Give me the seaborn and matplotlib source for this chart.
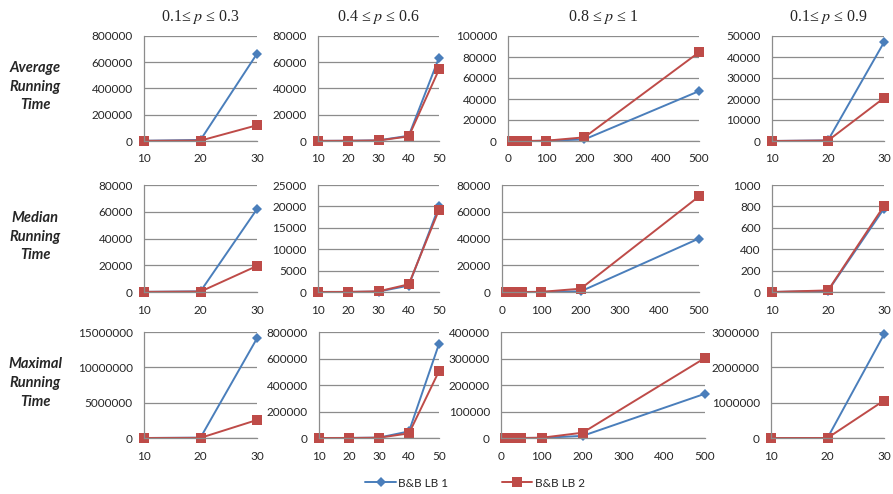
import numpy as np
import pandas as pd
import matplotlib
matplotlib.use("Agg")
import matplotlib.pyplot as plt
import seaborn as sns

# ---------------- data ----------------
x_small = [10, 20, 30]
x_mid = [10, 20, 30, 40, 50]
x_large = [10, 20, 30, 40, 50, 100, 200, 500]

# Average running time
avg_p1_lb1 = [2000, 8000, 665000]
avg_p1_lb2 = [1000, 3000, 120000]
avg_p2_lb1 = [100, 200, 500, 4000, 63500]
avg_p2_lb2 = [100, 150, 400, 3500, 54500]
avg_p3_lb1 = [0, 0, 0, 0, 10, 200, 1500, 47500]
avg_p3_lb2 = [0, 0, 0, 0, 10, 300, 3500, 84500]
avg_p4_lb1 = [10, 300, 47000]
avg_p4_lb2 = [10, 200, 20500]

# Median running time
med_p1_lb1 = [100, 500, 62000]
med_p1_lb2 = [100, 300, 19500]
med_p2_lb1 = [10, 20, 100, 1500, 20000]
med_p2_lb2 = [10, 20, 150, 1800, 19200]
med_p3_lb1 = [0, 0, 0, 0, 10, 100, 500, 40000]
med_p3_lb2 = [0, 0, 0, 0, 10, 100, 2500, 71500]
med_p4_lb1 = [0, 10, 780]
med_p4_lb2 = [0, 15, 805]

# Maximal running time
max_p1_lb1 = [1000, 50000, 14100000]
max_p1_lb2 = [1000, 20000, 2550000]
max_p2_lb1 = [100, 500, 3000, 50000, 710000]
max_p2_lb2 = [100, 300, 2000, 35000, 505000]
max_p3_lb1 = [0, 0, 0, 0, 100, 500, 8000, 167000]
max_p3_lb2 = [0, 0, 0, 0, 100, 1000, 20000, 302000]
max_p4_lb1 = [10, 1000, 2930000]
max_p4_lb2 = [10, 500, 1060000]

series_names = ["B&B LB 1", "B&B LB 2"]
col_titles = ["0.1≤ $p$ ≤ 0.3", "0.4 ≤ $p$ ≤ 0.6", "0.8 ≤ $p$ ≤ 1", "0.1≤ $p$ ≤ 0.9"]
row_labels = ["Average\nRunning\nTime", "Median\nRunning\nTime", "Maximal\nRunning\nTime"]

x_by_col = [x_small, x_mid, x_large, x_small]
xticks_by_col = [[10, 20, 30], [10, 20, 30, 40, 50], [0, 100, 200, 300, 400, 500], [10, 20, 30]]
xlim_by_col = [(10, 30), (10, 50), (0, 500), (10, 30)]

data = [
    [(avg_p1_lb1, avg_p1_lb2), (avg_p2_lb1, avg_p2_lb2), (avg_p3_lb1, avg_p3_lb2), (avg_p4_lb1, avg_p4_lb2)],
    [(med_p1_lb1, med_p1_lb2), (med_p2_lb1, med_p2_lb2), (med_p3_lb1, med_p3_lb2), (med_p4_lb1, med_p4_lb2)],
    [(max_p1_lb1, max_p1_lb2), (max_p2_lb1, max_p2_lb2), (max_p3_lb1, max_p3_lb2), (max_p4_lb1, max_p4_lb2)],
]
yticks = [
    [np.arange(0, 800001, 200000), np.arange(0, 80001, 20000), np.arange(0, 100001, 20000), np.arange(0, 50001, 10000)],
    [np.arange(0, 80001, 20000), np.arange(0, 25001, 5000), np.arange(0, 80001, 20000), np.arange(0, 1001, 200)],
    [np.arange(0, 15000001, 5000000), np.arange(0, 800001, 200000), np.arange(0, 400001, 100000), np.arange(0, 3000001, 1000000)],
]

# ---------------- style ----------------
sns.set_style("white")
plt.rcParams["font.family"] = ["Lato", "DejaVu Sans"]
plt.rcParams["mathtext.fontset"] = "stix"

W, H = 893, 494
fig = plt.figure(figsize=(W / 100, H / 100), dpi=100)

# pixel boxes (left, right, top, bottom)
rows_y = [(36, 141), (185, 292), (332, 438)]
cols_x = [
    [(144, 257), (318, 439), (508, 699), (772, 884)],
    [(144, 257), (318, 439), (502, 699), (772, 884)],
    [(144, 257), (319, 439), (501, 705), (771, 884)],
]

blue = "#4A7EBB"
red = "#BE4B48"
grid_c = "#8C8C8C"
axis_c = "#8C8C8C"

for r in range(3):
    for c in range(4):
        x0, x1 = cols_x[r][c]
        yt, yb = rows_y[r]
        ax = fig.add_axes([x0 / W, 1 - yb / H, (x1 - x0) / W, (yb - yt) / H])
        xs = x_by_col[c]
        lb1, lb2 = data[r][c]
        df = pd.DataFrame({
            "x": xs + xs,
            "y": lb1 + lb2,
            "s": [series_names[0]] * len(xs) + [series_names[1]] * len(xs),
        })
        sns.lineplot(data=df, x="x", y="y", hue="s", style="s",
                     palette={series_names[0]: blue, series_names[1]: red},
                     markers={series_names[0]: "D", series_names[1]: "s"},
                     dashes=False, markersize=5, linewidth=1.4,
                     markeredgewidth=0, ax=ax, legend=False, clip_on=False,
                     sort=False, estimator=None)
        for ln in ax.lines:
            ln.set_clip_on(False)
        ax.lines[0].set_markersize(5.5)
        ax.lines[1].set_markersize(7.5)
        yt_vals = yticks[r][c]
        ax.set_ylim(0, yt_vals[-1])
        ax.set_yticks(yt_vals)
        ax.set_yticklabels([f"{int(v)}" for v in yt_vals])
        ax.set_xlim(*xlim_by_col[c])
        ax.set_xticks(xticks_by_col[c])
        ax.set_xticklabels([str(v) for v in xticks_by_col[c]])
        ax.set_xlabel("")
        ax.set_ylabel("")
        ax.grid(axis="y", color=grid_c, linewidth=0.9)
        ax.set_axisbelow(True)
        for s in ["top", "right"]:
            ax.spines[s].set_visible(False)
        for s in ["left", "bottom"]:
            ax.spines[s].set_color(axis_c)
            ax.spines[s].set_linewidth(0.9)
        ax.tick_params(axis="x", direction="out", length=4, width=0.9, color=axis_c,
                       labelsize=8.5, labelcolor="#262626", pad=5)
        ax.tick_params(axis="y", direction="out", length=3, width=0.9, color=axis_c,
                       labelsize=8.5, labelcolor="#262626", pad=5)
        ax.set_facecolor("none")
        if r == 0:
            ax.set_title(col_titles[c], family="Liberation Serif", fontsize=11.5, pad=11)

for r in range(3):
    yt, yb = rows_y[r]
    fig.text(35 / W, 1 - ((yt + yb) / 2 - 2) / H, row_labels[r], ha="center", va="center",
             fontsize=10.5, fontweight="bold", fontstyle="italic", linespacing=1.45)

from matplotlib.lines import Line2D
handles = [
    Line2D([], [], color=blue, marker="D", markersize=5.5, markeredgewidth=0, linewidth=1.4),
    Line2D([], [], color=red, marker="s", markersize=7.5, markeredgewidth=0, linewidth=1.4),
]
fig.legend(handles, series_names, loc="center", bbox_to_anchor=(475 / W, 1 - 483 / H),
           ncol=2, frameon=False, fontsize=8.5, handlelength=2.6, columnspacing=4.5,
           handletextpad=0.2)

fig.savefig("out.png", dpi=100)
